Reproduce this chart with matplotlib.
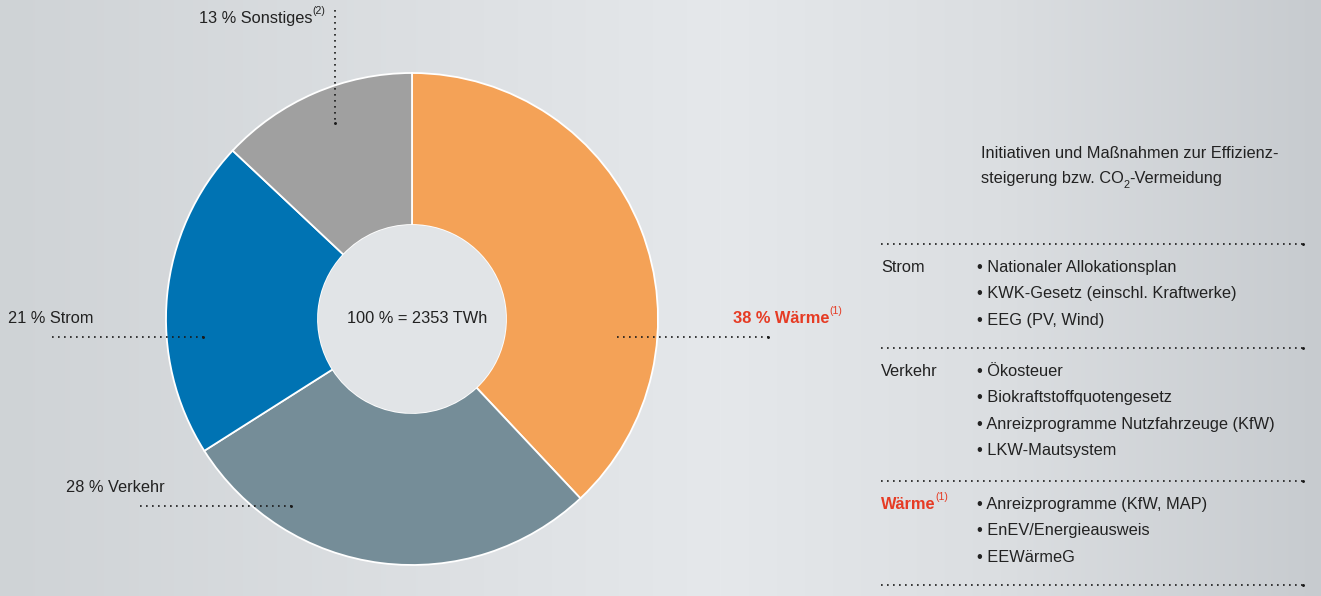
import numpy as np
import matplotlib.pyplot as plt

plt.rcParams['font.family'] = ['Liberation Sans', 'DejaVu Sans']

# data
sectors = ['Wärme', 'Verkehr', 'Strom', 'Sonstiges']
shares = [38, 28, 21, 13]
footnotes = ['(1)', '', '', '(2)']
colors = ['#F4A257', '#758D98', '#0073B3', '#A0A0A0']
total_twh = 2353

panel_title = ['Initiativen und Maßnahmen zur Effizienz-', 'steigerung bzw. CO', '2', '-Vermeidung']
groups = ['Strom', 'Verkehr', 'Wärme']
strom_measures = ['Nationaler Allokationsplan', 'KWK-Gesetz (einschl. Kraftwerke)', 'EEG (PV, Wind)']
verkehr_measures = ['Ökosteuer', 'Biokraftstoffquotengesetz',
                    'Anreizprogramme Nutzfahrzeuge (KfW)', 'LKW-Mautsystem']
waerme_measures = ['Anreizprogramme (KfW, MAP)', 'EnEV/Energieausweis', 'EEWärmeG']

TXT = '#222222'
RED = '#E63B24'
FS = 11.8
W, H = 1321, 596

fig = plt.figure(figsize=(W / 100, H / 100), dpi=100)
ax = fig.add_axes([0, 0, 1, 1])

# background: soft horizontal grey gradient
gx = [0, 450, 720, 1000, W]
gc = np.array([[207, 211, 214], [221, 224, 227], [229, 232, 235], [219, 222, 225], [199, 203, 207]]) / 255
xs = np.arange(W)
grad = np.stack([np.interp(xs, gx, gc[:, i]) for i in range(3)], axis=-1)
ax.imshow(grad[np.newaxis, :, :], extent=[0, W, H, 0], aspect='auto', zorder=0)

# donut (y axis runs downward, so counterclock in data = clockwise on screen)
cx, cy, r_out, r_in = 412, 319, 246, 94
ax.pie(shares, colors=colors, startangle=-90, counterclock=True, center=(cx, cy), radius=r_out,
       frame=True, wedgeprops=dict(width=r_out - r_in, edgecolor='white', linewidth=1.3))
ax.add_patch(plt.Circle((cx, cy), r_in, facecolor='#E1E4E7', edgecolor='none', zorder=2))
ax.text(cx + 5, 323, f'100 % = {total_twh} TWh', ha='center', va='baseline', fontsize=FS, color=TXT)

ax.set_xlim(0, W)
ax.set_ylim(H, 0)
ax.set_aspect('auto')
ax.axis('off')


def dotted(xs_, ys_):
    ax.plot(xs_, ys_, color='#1a1a1a', lw=1.2, linestyle=(0, (1, 2.6)), zorder=3)
    ax.plot([xs_[-1]], [ys_[-1]], 'o', color='#1a1a1a', ms=1.1, zorder=3)


def sup(t, s, base, color):
    ax.annotate(s, xy=(1, base), xycoords=(t, 'data'), xytext=(0, 0), textcoords='offset points',
                ha='left', va='baseline', fontsize=7.6, color=color)


# sector labels
lab_pos = {'Wärme': (733, 323), 'Verkehr': (66, 492), 'Strom': (8, 323), 'Sonstiges': (199, 23)}
for name, share, fn in zip(sectors, shares, footnotes):
    x, y = lab_pos[name]
    bold = name == 'Wärme'
    col = RED if bold else TXT
    t = ax.text(x, y, f'{share} % {name}', ha='left', va='baseline', fontsize=FS, color=col,
                fontweight='bold' if bold else 'normal')
    if fn:
        sup(t, fn, y - 9, col)

dotted([617, 768], [337, 337])
dotted([140, 291], [506, 506])
dotted([52, 203], [337, 337])
dotted([335, 335], [10, 123])

# right panel
ax.text(981, 158, panel_title[0], ha='left', va='baseline', fontsize=FS, color=TXT)
t1 = ax.text(981, 183, panel_title[1], ha='left', va='baseline', fontsize=FS, color=TXT)
t2 = ax.annotate(panel_title[2], xy=(1, 188), xycoords=(t1, 'data'), xytext=(0, 0),
                 textcoords='offset points', ha='left', va='baseline', fontsize=7.8, color=TXT)
ax.annotate(panel_title[3], xy=(1, 183), xycoords=(t2, 'data'), xytext=(0, 0),
            textcoords='offset points', ha='left', va='baseline', fontsize=FS, color=TXT)

rule_y = [244, 348, 481, 585]
for y in rule_y:
    dotted([881, 1303], [y, y])

group_items = [strom_measures, verkehr_measures, waerme_measures]
row_step = 26.3
for i, (g, items) in enumerate(zip(groups, group_items)):
    y0 = rule_y[i] + 28
    bold = g == 'Wärme'
    col = RED if bold else TXT
    t = ax.text(881, y0, g, ha='left', va='baseline', fontsize=FS, color=col,
                fontweight='bold' if bold else 'normal')
    if bold:
        sup(t, '(1)', y0 - 9, col)
    for k, item in enumerate(items):
        ax.text(977, y0 + k * row_step, '\u2022 ' + item, ha='left', va='baseline', fontsize=FS, color=TXT)

fig.savefig('out.png', dpi=100)
